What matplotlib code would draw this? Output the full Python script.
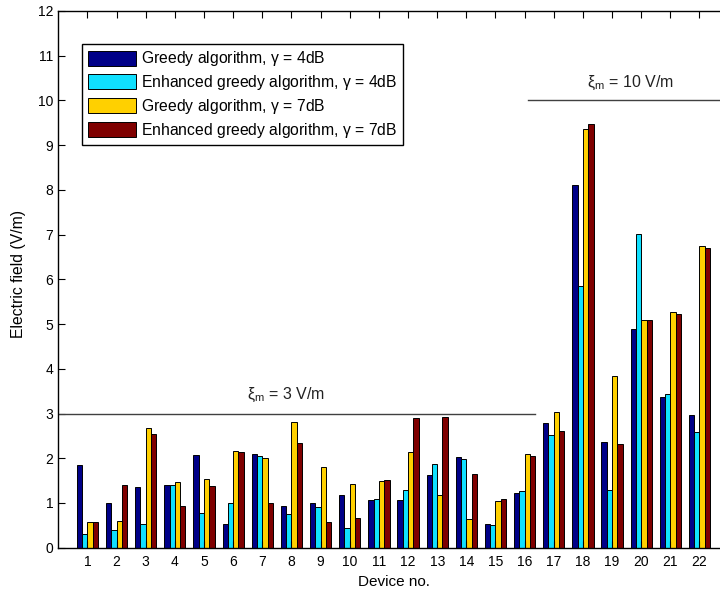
import numpy as np
import matplotlib
matplotlib.use("Agg")
import matplotlib.pyplot as plt

plt.rcParams['font.family'] = ['Liberation Sans', 'DejaVu Sans']
plt.rcParams['mathtext.fontset'] = 'custom'
plt.rcParams['mathtext.rm'] = 'Liberation Sans'
plt.rcParams['mathtext.it'] = 'Liberation Sans'

devices = list(range(1, 23))
series_labels = [
    r'Greedy algorithm, $\mathregular{\gamma}$ = 4dB',
    r'Enhanced greedy algorithm, $\mathregular{\gamma}$ = 4dB',
    r'Greedy algorithm, $\mathregular{\gamma}$ = 7dB',
    r'Enhanced greedy algorithm, $\mathregular{\gamma}$ = 7dB',
]
greedy_4db = [1.84, 1.01, 1.35, 1.40, 2.08, 0.53, 2.10, 0.93, 1.00, 1.17, 1.07,
              1.06, 1.63, 2.02, 0.52, 1.23, 2.79, 8.12, 2.36, 4.88, 3.36, 2.97]
enhanced_4db = [0.30, 0.39, 0.54, 1.41, 0.78, 1.01, 2.04, 0.75, 0.90, 0.45, 1.08,
                1.28, 1.87, 1.99, 0.51, 1.26, 2.53, 5.86, 1.29, 7.02, 3.43, 2.58]
greedy_7db = [0.565, 0.595, 2.68, 1.46, 1.53, 2.17, 2.01, 2.80, 1.81, 1.43, 1.50,
              2.13, 1.18, 0.65, 1.05, 2.09, 3.03, 9.37, 3.84, 5.10, 5.28, 6.74]
enhanced_7db = [0.565, 1.41, 2.55, 0.93, 1.38, 2.13, 1.01, 2.35, 0.565, 0.66, 1.51,
                2.89, 2.92, 1.64, 1.09, 2.04, 2.60, 9.47, 2.31, 5.08, 5.23, 6.71]
series = [greedy_4db, enhanced_4db, greedy_7db, enhanced_7db]
colors = ['#000088', '#10E0FF', '#FFD000', '#7F0000']

# exposure limits
limit_low = 3
limit_high = 10

fig = plt.figure(figsize=(7.2, 5.9), dpi=100)
ax = fig.add_axes([0.081, 0.0717, 0.931, 0.9097])

x = np.arange(1, len(devices) + 1)
group_width = 4 / 5.5
bar_w = group_width / 4
for i, (vals, c, lab) in enumerate(zip(series, colors, series_labels)):
    offs = (i - 1.5) * bar_w
    ax.bar(x + offs, vals, width=bar_w, color=c, edgecolor='black',
           linewidth=0.7, label=lab)

ax.plot([0, 16.35], [limit_low, limit_low], color='#404040', linewidth=1.0)
ax.plot([16.13, 23], [limit_high, limit_high], color='#404040', linewidth=1.0)
ax.text(6.48, 3.33, r'$\mathregular{\xi_m}$ = 3 V/m', fontsize=11.5, color='#222222')
ax.text(18.13, 10.3, r'$\mathregular{\xi_m}$ = 10 V/m', fontsize=11.5, color='#222222')

ax.set_xlim(0, 23)
ax.set_ylim(0, 12)
ax.set_xticks(x)
ax.set_xticklabels([str(d) for d in devices])
ax.set_yticks(range(0, 13))
ax.tick_params(direction='in', top=True, right=True, length=5, width=0.8,
               labelsize=10)
ax.tick_params(axis='x', pad=5)
ax.tick_params(axis='y', pad=3.5)
for s in ax.spines.values():
    s.set_linewidth(1.0)

ax.set_xlabel('Device no.', fontsize=11)
ax.xaxis.set_label_coords(0.5, -0.05)
ax.set_ylabel('Electric field (V/m)', fontsize=11.3)
ax.yaxis.set_label_coords(-0.048, 0.51)

leg = ax.legend(loc='upper left', bbox_to_anchor=(0.0358, 0.9385),
                borderaxespad=0, fancybox=False, edgecolor='black',
                framealpha=1, fontsize=11.3, handlelength=3.1, handleheight=1.12,
                handletextpad=0.28, labelspacing=0.3, borderpad=0.35)
leg.get_frame().set_linewidth(1.0)

fig.savefig('out.png', dpi=100)
